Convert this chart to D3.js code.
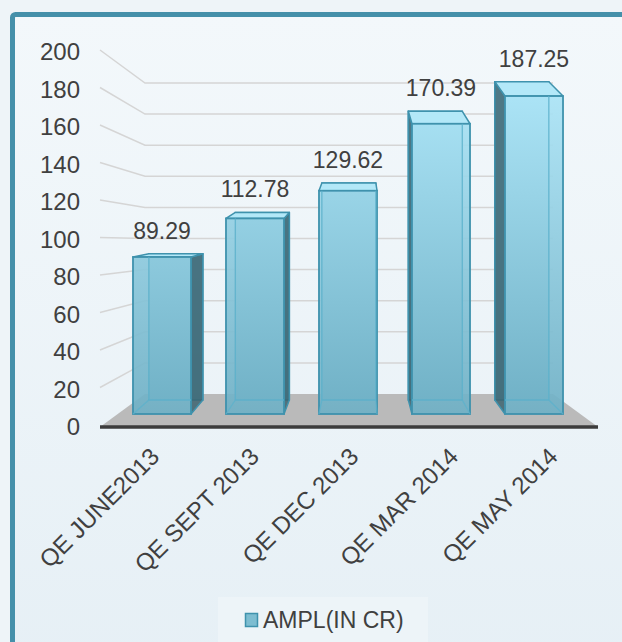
<!DOCTYPE html>
<html>
<head>
<meta charset="utf-8">
<script src="https://cdn.jsdelivr.net/npm/d3@7"></script>
<style>
  body { margin: 0; background: #eef4f8; }
  text { font-family: "Liberation Sans", Arial, sans-serif; fill: #404040; }
</style>
</head>
<body>
<div id="chart"></div>
<script>
// data
const categories = ['QE JUNE2013', 'QE SEPT 2013', 'QE DEC 2013', 'QE MAR 2014', 'QE MAY 2014'];
const values = [89.29, 112.78, 129.62, 170.39, 187.25];
const valueLabels = ['89.29', '112.78', '129.62', '170.39', '187.25'];
const yTicks = [0, 20, 40, 60, 80, 100, 120, 140, 160, 180, 200];
const seriesName = 'AMPL(IN CR)';

const width = 622, height = 642;

// 3d floor geometry
const floor = { frontY: 427, backY: 394, left: 100, right: 598, depth: 45 };
const baseFront = 414, baseBack = 400;
const vanishX = 360, shrink = 0.93;

const svg = d3.select('#chart').append('svg')
    .attr('width', width)
    .attr('height', height);

const defs = svg.append('defs');

const bg = defs.append('linearGradient').attr('id', 'bg')
    .attr('x1', 0).attr('y1', 0).attr('x2', 0).attr('y2', 1);
bg.append('stop').attr('offset', 0).attr('stop-color', '#f3f8fb');
bg.append('stop').attr('offset', 1).attr('stop-color', '#e5eff5');

const barGrad = defs.append('linearGradient').attr('id', 'barGrad')
    .attr('gradientUnits', 'userSpaceOnUse')
    .attr('x1', 0).attr('y1', 80).attr('x2', 0).attr('y2', baseFront);
barGrad.append('stop').attr('offset', 0).attr('stop-color', '#aee6f8');
barGrad.append('stop').attr('offset', 1).attr('stop-color', '#6fb0c5');

// frame
svg.append('rect')
    .attr('x', 12.5).attr('y', 14.5)
    .attr('width', 700).attr('height', 700)
    .attr('rx', 3)
    .attr('fill', 'url(#bg)')
    .attr('stroke', '#4590aa')
    .attr('stroke-width', 5);

// scales
const x = d3.scaleBand()
    .domain(categories)
    .range([115.5, 580.5])
    .paddingInner(0.376)
    .paddingOuter(0.188);

const xLabel = d3.scaleBand()
    .domain(categories)
    .range([floor.left, floor.right]);

const yLabel = d3.scaleLinear().domain([0, 200]).range([floor.frontY, 52]);
const yWall = d3.scaleLinear().domain([0, 200]).range([floor.backY, 83]);
const yFront = d3.scaleLinear().domain([0, 200]).range([403.7, 75.1]);
const yBack = d3.scaleLinear().domain([0, 200]).range([410.5, 59.3]);

// gridlines on side wall + back wall
svg.append('g').selectAll('polyline')
    .data(yTicks.filter(d => d > 0))
    .join('polyline')
    .attr('points', d => [
        [floor.left, yLabel(d) - 2],
        [floor.left + floor.depth, yWall(d)],
        [floor.right - floor.depth, yWall(d)]
    ].join(' '))
    .attr('fill', 'none')
    .attr('stroke', '#d5d5d5')
    .attr('stroke-width', 1.5);

// floor
svg.append('polygon')
    .attr('points', [
        [floor.left, floor.frontY],
        [floor.left + floor.depth, floor.backY],
        [floor.right - floor.depth, floor.backY],
        [floor.right, floor.frontY]
    ].join(' '))
    .attr('fill', '#bababa');

svg.append('line')
    .attr('x1', floor.left).attr('x2', floor.right)
    .attr('y1', floor.frontY).attr('y2', floor.frontY)
    .attr('stroke', '#3c3c3c')
    .attr('stroke-width', 3.5);

// y axis labels
const yAxis = svg.append('g')
    .attr('transform', 'translate(80,0)')
    .call(d3.axisLeft(yLabel).tickValues(yTicks).tickSize(0).tickPadding(0));
yAxis.select('.domain').remove();
yAxis.selectAll('text')
    .attr('font-size', 24)
    .attr('font-family', '"Liberation Sans", Arial, sans-serif')
    .attr('fill', '#404040');

// bars
const back = v => vanishX + shrink * (v - vanishX);
const outline = '#3f92ad';

svg.append('g').selectAll('g')
    .data(values.map((v, i) => ({ cat: categories[i], v, label: valueLabels[i] })))
    .join('g')
    .each(function(d) {
        const g = d3.select(this);
        const x0 = x(d.cat), x1 = x0 + x.bandwidth();
        const bx0 = back(x0), bx1 = back(x1);
        const ft = yFront(d.v), bt = yBack(d.v);

        // back face
        g.append('polygon')
            .attr('points', [[bx0, bt], [bx1, bt], [bx1, baseBack], [bx0, baseBack]].join(' '))
            .attr('fill', 'url(#barGrad)')
            .attr('stroke', outline).attr('stroke-width', 1.5);

        // side face
        let side = null;
        if (bx1 > x1 + 0.5) side = [[x1, ft], [bx1, bt], [bx1, baseBack], [x1, baseFront]];
        else if (bx0 < x0 - 0.5) side = [[x0, ft], [bx0, bt], [bx0, baseBack], [x0, baseFront]];
        if (side) {
            g.append('polygon')
                .attr('points', side.join(' '))
                .attr('fill', '#39606d')
                .attr('fill-opacity', 0.82)
                .attr('stroke', outline).attr('stroke-width', 1.5)
                .attr('stroke-linejoin', 'round');
        }

        // top face
        g.append('polygon')
            .attr('points', [[x0, ft], [bx0, bt], [bx1, bt], [x1, ft]].join(' '))
            .attr('fill', '#b3e8f8')
            .attr('stroke', outline).attr('stroke-width', 1.5)
            .attr('stroke-linejoin', 'round');

        // front face
        g.append('rect')
            .attr('x', x0).attr('y', ft)
            .attr('width', x1 - x0).attr('height', baseFront - ft)
            .attr('fill', 'url(#barGrad)')
            .attr('fill-opacity', 0.92)
            .attr('stroke', outline).attr('stroke-width', 1.8);

        // back edges seen through the glass
        const inner = g.append('g')
            .attr('stroke', '#5db2cc')
            .attr('stroke-opacity', 0.8)
            .attr('stroke-width', 1.3)
            .attr('fill', 'none');
        const ix0 = Math.max(bx0, x0), ix1 = Math.min(bx1, x1);
        inner.append('line').attr('x1', ix0).attr('x2', ix1).attr('y1', baseBack).attr('y2', baseBack);
        if (bx0 > x0 + 0.5) {
            inner.append('line').attr('x1', bx0).attr('x2', bx0).attr('y1', Math.max(bt, ft)).attr('y2', baseBack);
            inner.append('line').attr('x1', x0).attr('y1', baseFront).attr('x2', bx0).attr('y2', baseBack);
        }
        if (bx1 < x1 - 0.5) {
            inner.append('line').attr('x1', bx1).attr('x2', bx1).attr('y1', Math.max(bt, ft)).attr('y2', baseBack);
            inner.append('line').attr('x1', x1).attr('y1', baseFront).attr('x2', bx1).attr('y2', baseBack);
        }

        // value label
        g.append('text')
            .attr('x', (x0 + x1) / 2)
            .attr('y', bt - 15)
            .attr('text-anchor', 'middle')
            .attr('font-size', 23)
            .text(d.label);
    });

// category labels, rotated
svg.append('g').selectAll('text')
    .data(categories)
    .join('text')
    .attr('transform', d => `translate(${xLabel(d) + xLabel.bandwidth() / 2 + 11},458) rotate(-45)`)
    .attr('text-anchor', 'end')
    .attr('font-size', 24)
    .text(d => d);

// legend
const legend = svg.append('g');
legend.append('rect')
    .attr('x', 218).attr('y', 597)
    .attr('width', 210).attr('height', 60)
    .attr('fill', '#edf4f8');
legend.append('rect')
    .attr('x', 245.5).attr('y', 613.5)
    .attr('width', 12).attr('height', 13)
    .attr('fill', '#7dbdd1')
    .attr('stroke', outline).attr('stroke-width', 1.5);
legend.append('text')
    .attr('x', 263).attr('y', 628)
    .attr('font-size', 23)
    .text(seriesName);
</script>
</body>
</html>
